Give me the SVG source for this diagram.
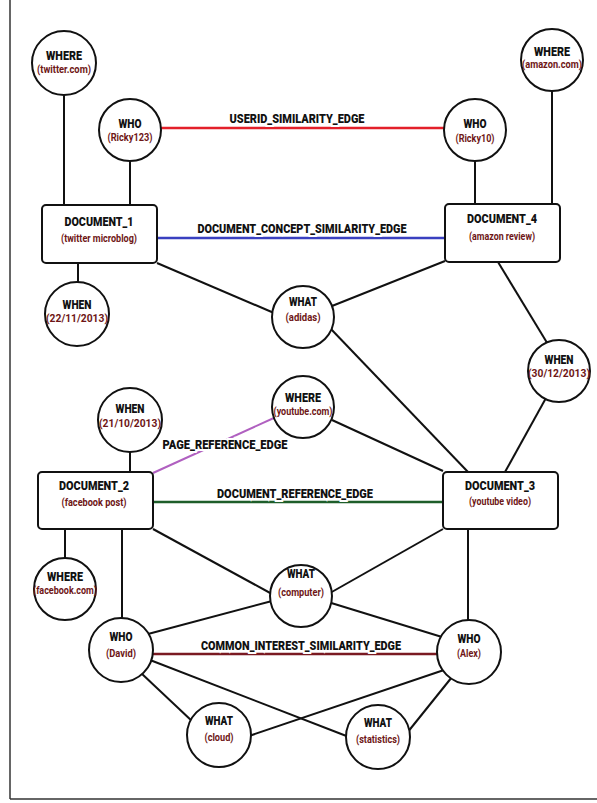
<svg xmlns="http://www.w3.org/2000/svg" width="597" height="803" viewBox="0 0 597 803">
<style>
.t{font-family:"Roboto","Liberation Sans",sans-serif;font-weight:900;text-anchor:middle}
.h{font-size:12.5px;fill:#111}
.s{font-size:10.5px;fill:#6e1616;font-weight:bold}
.d{font-size:13px;fill:#111}
.e{font-size:12.5px;fill:#111;stroke:#fff;stroke-width:4;paint-order:stroke}
.n{fill:#fff;stroke:#111;stroke-width:2}
.c line{stroke:#111;stroke-width:2}
</style>
<rect width="597" height="803" fill="#fff"/>
<g id="frame" fill="none" stroke="#333" stroke-width="1.5">
<line x1="10" y1="0" x2="10" y2="799"/>
<line x1="10" y1="799" x2="597" y2="799"/>
</g>
<g id="connectors" class="c">
<line x1="64" y1="90" x2="64" y2="205"/>
<line x1="130" y1="155" x2="130" y2="205"/>
<line x1="475" y1="155" x2="475" y2="204"/>
<line x1="552" y1="85" x2="552" y2="204"/>
<line x1="161" y1="128" x2="444" y2="128" style="stroke:#e3202a;stroke-width:2.5"/>
<line x1="157" y1="238" x2="445" y2="238" style="stroke:#3a40c0;stroke-width:2.5"/>
<line x1="78" y1="263" x2="78" y2="290"/>
<line x1="157" y1="263" x2="274" y2="313"/>
<line x1="445" y1="261" x2="332" y2="306"/>
<line x1="330" y1="328" x2="468" y2="472"/>
<line x1="498" y1="262" x2="549" y2="346"/>
<line x1="546" y1="398" x2="505" y2="472"/>
<line x1="130" y1="445" x2="130" y2="472"/>
<line x1="153" y1="473" x2="276" y2="417" style="stroke:#b060c0;stroke-width:2"/>
<line x1="332" y1="420" x2="443" y2="471"/>
<line x1="153" y1="502" x2="443" y2="502" style="stroke:#1e5e2a;stroke-width:2.5"/>
<line x1="65" y1="529" x2="65" y2="562"/>
<line x1="122" y1="529" x2="122" y2="622"/>
<line x1="153" y1="529" x2="272" y2="594"/>
<line x1="443" y1="529" x2="330" y2="593"/>
<line x1="468" y1="529" x2="468" y2="625"/>
<line x1="148" y1="634" x2="272" y2="601"/>
<line x1="328" y1="602" x2="442" y2="637"/>
<line x1="153" y1="654" x2="437" y2="654" style="stroke:#7a1a22;stroke-width:2.5"/>
<line x1="141" y1="673" x2="193" y2="722"/>
<line x1="150" y1="660" x2="349" y2="737"/>
<line x1="249" y1="736" x2="444" y2="670"/>
<line x1="407" y1="733" x2="452" y2="677"/>
</g>
<g id="edge-labels" class="t">
<text class="e" x="297" y="123" textLength="135" lengthAdjust="spacingAndGlyphs">USERID_SIMILARITY_EDGE</text>
<text class="e" x="302" y="233" textLength="209" lengthAdjust="spacingAndGlyphs">DOCUMENT_CONCEPT_SIMILARITY_EDGE</text>
<text class="e" x="225" y="449" textLength="125" lengthAdjust="spacingAndGlyphs">PAGE_REFERENCE_EDGE</text>
<text class="e" x="295" y="498" textLength="156" lengthAdjust="spacingAndGlyphs">DOCUMENT_REFERENCE_EDGE</text>
<text class="e" x="301" y="650" textLength="200" lengthAdjust="spacingAndGlyphs">COMMON_INTEREST_SIMILARITY_EDGE</text>
</g>
<g id="where-twitter" class="t"><circle class="n" cx="64" cy="63" r="32"/><text class="h" x="64" y="60" textLength="36" lengthAdjust="spacingAndGlyphs">WHERE</text><text class="s" x="64" y="73" textLength="54" lengthAdjust="spacingAndGlyphs">(twitter.com)</text></g>
<g id="who-ricky123" class="t"><circle class="n" cx="130" cy="130" r="31"/><text class="h" x="130" y="128" textLength="23" lengthAdjust="spacingAndGlyphs">WHO</text><text class="s" x="130" y="141" textLength="45" lengthAdjust="spacingAndGlyphs">(Ricky123)</text></g>
<g id="where-amazon" class="t"><circle class="n" cx="552" cy="60" r="31"/><text class="h" x="552" y="56" textLength="36" lengthAdjust="spacingAndGlyphs">WHERE</text><text class="s" x="552" y="68" textLength="60" lengthAdjust="spacingAndGlyphs">(amazon.com)</text></g>
<g id="who-ricky10" class="t"><circle class="n" cx="475" cy="130" r="31"/><text class="h" x="475" y="128" textLength="23" lengthAdjust="spacingAndGlyphs">WHO</text><text class="s" x="475" y="142" textLength="39" lengthAdjust="spacingAndGlyphs">(Ricky10)</text></g>
<g id="document-1" class="t"><rect class="n" x="42" y="205" width="115" height="58" rx="4"/><text class="d" x="99" y="226" textLength="69" lengthAdjust="spacingAndGlyphs">DOCUMENT_1</text><text class="s" x="99" y="242" textLength="76" lengthAdjust="spacingAndGlyphs">(twitter microblog)</text></g>
<g id="document-4" class="t"><rect class="n" x="445" y="204" width="115" height="58" rx="4"/><text class="d" x="502" y="223" textLength="70" lengthAdjust="spacingAndGlyphs">DOCUMENT_4</text><text class="s" x="502" y="240" textLength="66" lengthAdjust="spacingAndGlyphs">(amazon review)</text></g>
<g id="when-22-11" class="t"><circle class="n" cx="77" cy="314" r="32"/><text class="h" x="77" y="309" textLength="29" lengthAdjust="spacingAndGlyphs">WHEN</text><text class="s" x="77" y="322" textLength="62" lengthAdjust="spacingAndGlyphs">(22/11/2013)</text></g>
<g id="what-adidas" class="t"><circle class="n" cx="303" cy="317" r="31"/><text class="h" x="303" y="306" textLength="28" lengthAdjust="spacingAndGlyphs">WHAT</text><text class="s" x="303" y="321" textLength="35" lengthAdjust="spacingAndGlyphs">(adidas)</text></g>
<g id="when-30-12" class="t"><circle class="n" cx="559" cy="371" r="31"/><text class="h" x="559" y="364" textLength="29" lengthAdjust="spacingAndGlyphs">WHEN</text><text class="s" x="559" y="377" textLength="62" lengthAdjust="spacingAndGlyphs">(30/12/2013)</text></g>
<g id="when-21-10" class="t"><circle class="n" cx="130" cy="420" r="32"/><text class="h" x="130" y="413" textLength="29" lengthAdjust="spacingAndGlyphs">WHEN</text><text class="s" x="130" y="427" textLength="62" lengthAdjust="spacingAndGlyphs">(21/10/2013)</text></g>
<g id="where-youtube" class="t"><circle class="n" cx="303" cy="407" r="31"/><text class="h" x="303" y="402" textLength="36" lengthAdjust="spacingAndGlyphs">WHERE</text><text class="s" x="303" y="415" textLength="59" lengthAdjust="spacingAndGlyphs">(youtube.com)</text></g>
<g id="document-2" class="t"><rect class="n" x="38" y="472" width="115" height="57" rx="4"/><text class="d" x="94" y="490" textLength="70" lengthAdjust="spacingAndGlyphs">DOCUMENT_2</text><text class="s" x="94" y="506" textLength="65" lengthAdjust="spacingAndGlyphs">(facebook post)</text></g>
<g id="document-3" class="t"><rect class="n" x="443" y="472" width="115" height="57" rx="4"/><text class="d" x="500" y="490" textLength="70" lengthAdjust="spacingAndGlyphs">DOCUMENT_3</text><text class="s" x="500" y="505" textLength="62" lengthAdjust="spacingAndGlyphs">(youtube video)</text></g>
<g id="where-facebook" class="t"><circle class="n" cx="65" cy="589" r="31"/><text class="h" x="65" y="581" textLength="36" lengthAdjust="spacingAndGlyphs">WHERE</text><text class="s" x="65" y="594" textLength="64" lengthAdjust="spacingAndGlyphs">(facebook.com)</text></g>
<g id="what-computer" class="t"><circle class="n" cx="301" cy="596" r="31"/><text class="h" x="301" y="578" textLength="28" lengthAdjust="spacingAndGlyphs">WHAT</text><text class="s" x="301" y="596" textLength="46" lengthAdjust="spacingAndGlyphs">(computer)</text></g>
<g id="who-david" class="t"><circle class="n" cx="121" cy="650" r="32"/><text class="h" x="121" y="641" textLength="23" lengthAdjust="spacingAndGlyphs">WHO</text><text class="s" x="121" y="657" textLength="30" lengthAdjust="spacingAndGlyphs">(David)</text></g>
<g id="who-alex" class="t"><circle class="n" cx="469" cy="652" r="32"/><text class="h" x="469" y="643" textLength="23" lengthAdjust="spacingAndGlyphs">WHO</text><text class="s" x="469" y="657" textLength="24" lengthAdjust="spacingAndGlyphs">(Alex)</text></g>
<g id="what-cloud" class="t"><circle class="n" cx="219" cy="735" r="32"/><text class="h" x="219" y="725" textLength="28" lengthAdjust="spacingAndGlyphs">WHAT</text><text class="s" x="219" y="741" textLength="29" lengthAdjust="spacingAndGlyphs">(cloud)</text></g>
<g id="what-statistics" class="t"><circle class="n" cx="378" cy="737" r="32"/><text class="h" x="378" y="727" textLength="28" lengthAdjust="spacingAndGlyphs">WHAT</text><text class="s" x="378" y="743" textLength="44" lengthAdjust="spacingAndGlyphs">(statistics)</text></g>
</svg>
